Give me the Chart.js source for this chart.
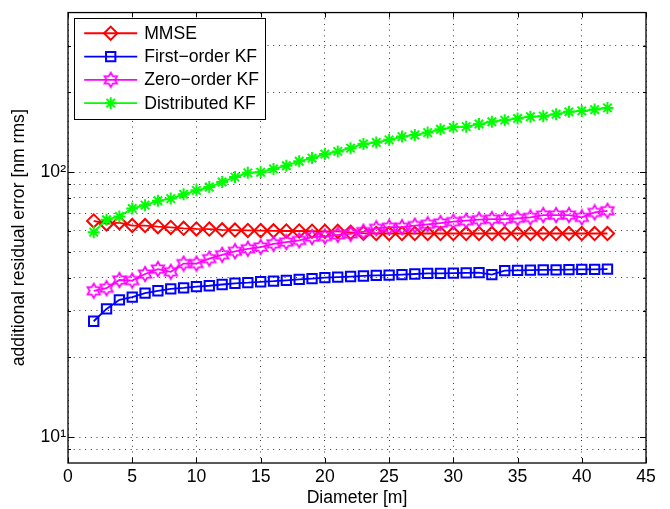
<!DOCTYPE html>
<html>
<head>
<meta charset="utf-8">
<script src="https://cdn.jsdelivr.net/npm/chart.js@4.4.1/dist/chart.umd.min.js"></script>
<style>
    html, body { margin: 0; padding: 0; background: #fff; }
    #wrap { width: 670px; height: 509px; }
</style>
</head>
<body>
<div id="wrap"><canvas id="chart" width="670" height="509"></canvas></div>
<script>
// Diameter [m]
const diameters = [2, 3, 4, 5, 6, 7, 8, 9, 10, 11, 12, 13, 14, 15, 16, 17, 18, 19, 20, 21,
    22, 23, 24, 25, 26, 27, 28, 29, 30, 31, 32, 33, 34, 35, 36, 37, 38, 39, 40, 41, 42];

// additional residual error [nm rms]
const mmse = [65.5, 63.8, 64.5, 62.9, 62.9, 62.3, 61.9, 61.4, 61.1, 61.0, 60.6, 60.5, 60.3, 60.2,
    60.1, 60.0, 60.0, 59.9, 59.8, 59.8, 59.3, 58.9, 58.7, 58.7, 58.7, 58.7, 58.7, 58.7, 58.7,
    58.7, 58.7, 58.7, 58.7, 58.7, 58.7, 58.7, 58.7, 58.7, 58.7, 58.7, 58.7];
const firstOrderKF = [27.4, 30.5, 33.0, 33.8, 35.0, 35.7, 36.3, 36.6, 37.0, 37.3, 37.7, 38.1, 38.3,
    38.6, 38.8, 39.1, 39.4, 39.7, 40.0, 40.2, 40.4, 40.6, 40.8, 40.9, 41.1, 41.3, 41.5, 41.5, 41.6,
    41.7, 41.8, 41.1, 42.5, 42.6, 42.7, 42.8, 42.8, 42.9, 43.0, 43.0, 43.1];
const zeroOrderKF = [35.7, 36.5, 39.2, 39.0, 41.3, 43.1, 42.1, 45.2, 45.2, 47.2, 48.8, 50.3, 51.4,
    52.2, 53.7, 54.5, 55.3, 56.9, 57.2, 58.0, 58.5, 59.7, 61.4, 62.0, 62.0, 62.9, 63.6, 64.3, 65.1,
    65.6, 66.2, 66.5, 66.5, 67.0, 67.5, 68.9, 68.9, 68.9, 67.5, 70.5, 71.5];
const distributedKF = [59.4, 66.2, 68.1, 73.0, 75.1, 78.0, 79.5, 82.5, 85.4, 87.9, 91.8, 95.8, 99.4,
    100.0, 102.9, 105.8, 109.9, 113.0, 117.0, 119.8, 123.2, 127.8, 129.4, 132.4, 136.2, 138.1, 141.0,
    145.1, 147.6, 148.5, 151.9, 155.0, 157.1, 159.5, 161.9, 162.7, 165.5, 168.9, 170.3, 172.2, 174.8];

const seriesNames = ['MMSE', 'First\u2212order KF', 'Zero\u2212order KF', 'Distributed KF'];

const xTicks = [0, 5, 10, 15, 20, 25, 30, 35, 40, 45];
const yTicks = [9, 10, 20, 30, 40, 50, 60, 70, 80, 90, 100, 200, 300];
const yTickLabels = { 10: '10\u00b9', 100: '10\u00b2' };

const FONT = '"Liberation Sans", Arial, Helvetica, sans-serif';
const FONT_SIZE = 17.6;
Chart.defaults.font.family = FONT;
Chart.defaults.font.size = FONT_SIZE;
Chart.defaults.color = '#000';

// MATLAB hexagram marker, drawn once on a small canvas
function makeHexagram(color) {
    const c = document.createElement('canvas');
    c.width = 18;
    c.height = 18;
    const g = c.getContext('2d');
    const R = 7.2, r = R / Math.sqrt(3);
    g.beginPath();
    for (let k = 0; k < 12; k++) {
        const ang = -Math.PI / 2 + k * Math.PI / 6;
        const rad = k % 2 === 0 ? R : r;
        const px = 9 + rad * Math.cos(ang), py = 9 + rad * Math.sin(ang);
        if (k === 0) g.moveTo(px, py); else g.lineTo(px, py);
    }
    g.closePath();
    g.strokeStyle = color;
    g.lineWidth = 1.8;
    g.stroke();
    return c;
}

function toPoints(values) {
    return values.map((v, i) => ({ x: diameters[i], y: v }));
}

const gridStyle = {
    color: 'rgba(0,0,0,0.8)',
    lineWidth: 1,
    drawTicks: false
};

const frame = {
    id: 'frame',
    afterDatasetsDraw(chart) {
        const { ctx, chartArea: a, scales: { x, y } } = chart;
        ctx.save();
        ctx.strokeStyle = '#000';
        ctx.lineWidth = 1;
        ctx.beginPath();
        xTicks.forEach(v => {
            const px = Math.round(x.getPixelForValue(v)) + 0.5;
            ctx.moveTo(px, a.bottom); ctx.lineTo(px, a.bottom - 5);
            ctx.moveTo(px, a.top); ctx.lineTo(px, a.top + 5);
        });
        yTicks.forEach(v => {
            const py = Math.round(y.getPixelForValue(v)) + 0.5;
            const len = yTickLabels[v] ? 6 : 3;
            ctx.moveTo(a.left, py); ctx.lineTo(a.left + len, py);
            ctx.moveTo(a.right, py); ctx.lineTo(a.right - len, py);
        });
        ctx.stroke();
        ctx.lineWidth = 1.3;
        ctx.strokeRect(a.left, a.top, a.right - a.left, a.bottom - a.top);
        ctx.restore();
    }
};

const legendBox = {
    id: 'legendBox',
    afterDraw(chart) {
        const { ctx, chartArea: a } = chart;
        const left = a.left + 5.5, top = a.top + 5, w = 190.5, h = 100.7;
        ctx.save();
        ctx.fillStyle = '#fff';
        ctx.fillRect(left, top, w, h);
        ctx.strokeStyle = '#000';
        ctx.lineWidth = 1;
        ctx.strokeRect(Math.round(left) + 0.5, Math.round(top) + 0.5, Math.round(w), Math.round(h));
        chart.data.datasets.forEach((ds, i) => {
            const cy = top + 15.7 + i * 23.3;
            ctx.strokeStyle = ds.borderColor;
            ctx.lineWidth = ds.borderWidth;
            ctx.beginPath();
            ctx.moveTo(left + 10.7, cy);
            ctx.lineTo(left + 63.7, cy);
            ctx.stroke();
            ctx.lineWidth = ds.pointBorderWidth;
            ctx.fillStyle = 'rgba(0,0,0,0)';
            Chart.helpers.drawPoint(ctx, {
                pointStyle: ds.pointStyle,
                radius: ds.pointRadius,
                rotation: 0,
                borderWidth: ds.pointBorderWidth
            }, left + 37.2, cy);
            ctx.fillStyle = '#000';
            ctx.font = FONT_SIZE + 'px ' + FONT;
            ctx.textBaseline = 'middle';
            ctx.textAlign = 'left';
            ctx.fillText(ds.label, left + 70.7, cy + 0.5);
        });
        ctx.restore();
    }
};

const seriesValues = [mmse, firstOrderKF, zeroOrderKF, distributedKF];
const colors = ['#ff0000', '#0000ff', '#ff00ff', '#00ff00'];
const markers = ['rectRot', 'rect', makeHexagram('#ff00ff'), 'star'];
const markerRadius = [6.6, 6.6, 7, 6];

new Chart(document.getElementById('chart'), {
    type: 'line',
    data: {
        datasets: seriesValues.map((vals, i) => ({
            label: seriesNames[i],
            data: toPoints(vals),
            borderColor: colors[i],
            backgroundColor: 'rgba(0,0,0,0)',
            borderWidth: 1.8,
            pointStyle: markers[i],
            pointRadius: markerRadius[i],
            pointBorderColor: colors[i],
            pointBackgroundColor: 'rgba(0,0,0,0)',
            pointBorderWidth: 2,
            tension: 0,
            order: 4 - i
        }))
    },
    options: {
        responsive: false,
        animation: false,
        devicePixelRatio: 1,
        layout: { padding: { left: 0, right: 24, top: 8, bottom: 0 } },
        plugins: {
            legend: { display: false },
            tooltip: { enabled: false }
        },
        scales: {
            x: {
                type: 'linear',
                min: 0,
                max: 45,
                afterBuildTicks: s => { s.ticks = xTicks.map(v => ({ value: v })); },
                afterFit: s => { s.height = 46; },
                grid: { ...gridStyle },
                border: { display: false, dash: [1, 4.7] },
                ticks: { padding: 4, autoSkip: false, maxRotation: 0 },
                title: { display: true, text: 'Diameter [m]', padding: { top: 0, bottom: 0 } }
            },
            y: {
                type: 'logarithmic',
                min: 8,
                max: 400,
                afterBuildTicks: s => { s.ticks = yTicks.map(v => ({ value: v })); },
                afterFit: s => { s.width = 68; },
                grid: { ...gridStyle },
                border: { display: false, dash: [1, 4.7] },
                ticks: {
                    padding: 2,
                    autoSkip: false,
                    callback: v => yTickLabels[v] || ''
                },
                title: { display: true, text: 'additional residual error [nm rms]', padding: { top: 9, bottom: 0 } }
            }
        }
    },
    plugins: [frame, legendBox]
});
</script>
</body>
</html>
